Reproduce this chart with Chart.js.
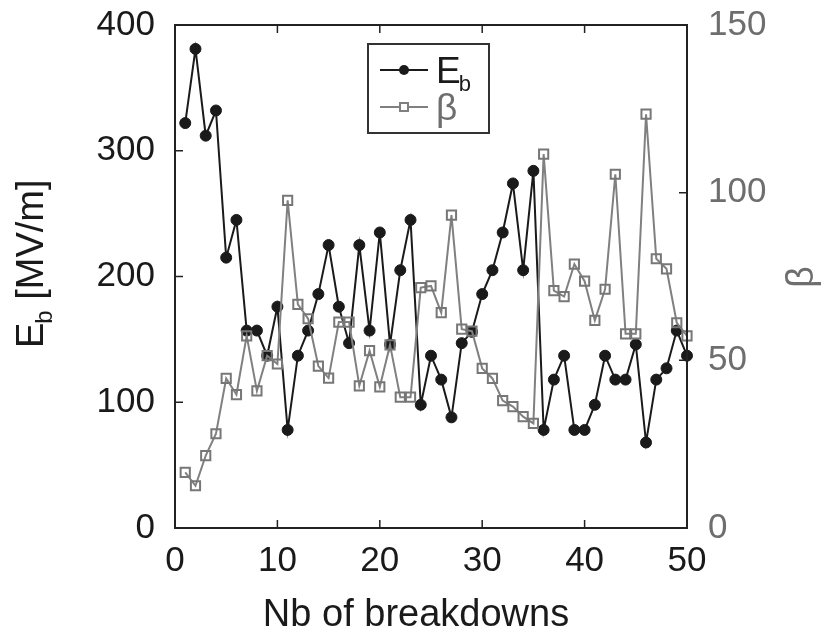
<!DOCTYPE html>
<html>
<head>
<meta charset="utf-8">
<script src="https://cdn.jsdelivr.net/npm/chart.js@4.4.1/dist/chart.umd.min.js"></script>
<style>
  body { margin: 0; background: #fff; }
  #chart { display: block; }
</style>
</head>
<body>
<canvas id="chart" width="821" height="632"></canvas>
<script>
// breakdown index
const breakdowns = [1, 2, 3, 4, 5, 6, 7, 8, 9, 10,
  11, 12, 13, 14, 15, 16, 17, 18, 19, 20,
  21, 22, 23, 24, 25, 26, 27, 28, 29, 30,
  31, 32, 33, 34, 35, 36, 37, 38, 39, 40,
  41, 42, 43, 44, 45, 46, 47, 48, 49, 50];

// breakdown field E_b [MV/m]
const ebValues = [322, 381, 312, 332, 215, 245, 157, 157, 137, 176,
  78, 137, 157, 186, 225, 176, 147, 225, 157, 235,
  146, 205, 245, 98, 137, 118, 88, 147, 156, 186,
  205, 235, 274, 205, 284, 78, 118, 137, 78, 78,
  98, 137, 118, 118, 146, 68, 118, 127, 157, 137];

// field enhancement factor beta
const betaValues = [16.6, 12.6, 21.6, 28.1, 44.6, 39.8, 57.3, 40.9, 51.4, 48.9,
  97.7, 66.7, 62.4, 48.3, 44.7, 61.4, 61.4, 42.4, 52.9, 42.1,
  54.6, 39, 39, 71.7, 72.2, 64.2, 93.3, 59.3, 58.7, 47.6,
  44.6, 38, 36.2, 33.2, 31.2, 111.5, 70.8, 69, 78.7, 73.6,
  61.9, 71.2, 105.5, 57.9, 57.9, 123.4, 80.3, 77.3, 61.2, 57.3];

// tick values
const xTicks = [0, 10, 20, 30, 40, 50];
const ebTicks = [0, 100, 200, 300, 400];
const betaTicks = [0, 50, 100, 150];

const black = "#1a1a1a";
const gray = "#808080";
const grayText = "#6e6e6e";
const font = "'Liberation Sans', Arial, Helvetica, sans-serif";

// frame, inward ticks, axis titles and legend
const decorPlugin = {
  id: "decor",
  afterDraw(chart) {
    const ctx = chart.ctx;
    const a = chart.chartArea;
    const sx = chart.scales.x, sy = chart.scales.y, sy1 = chart.scales.y1;
    ctx.save();

    // frame
    ctx.strokeStyle = "#222";
    ctx.lineWidth = 2;
    ctx.strokeRect(a.left, a.top, a.right - a.left, a.bottom - a.top);

    // inward ticks
    ctx.lineWidth = 1.5;
    ctx.beginPath();
    xTicks.slice(1, -1).forEach(v => {
      const px = sx.getPixelForValue(v);
      ctx.moveTo(px, a.bottom); ctx.lineTo(px, a.bottom - 8);
      ctx.moveTo(px, a.top); ctx.lineTo(px, a.top + 8);
    });
    ebTicks.slice(1, -1).forEach(v => {
      const py = sy.getPixelForValue(v);
      ctx.moveTo(a.left, py); ctx.lineTo(a.left + 8, py);
    });
    betaTicks.slice(1, -1).forEach(v => {
      const py = sy1.getPixelForValue(v);
      ctx.moveTo(a.right, py); ctx.lineTo(a.right - 8, py);
    });
    ctx.stroke();

    // x title
    ctx.fillStyle = black;
    ctx.textBaseline = "alphabetic";
    ctx.textAlign = "center";
    ctx.font = "38px " + font;
    ctx.fillText("Nb of breakdowns", 416, 626);

    // left title E_b [MV/m]
    ctx.save();
    ctx.translate(43, 348);
    ctx.rotate(-Math.PI / 2);
    ctx.textAlign = "left";
    ctx.font = "38px " + font;
    ctx.fillText("E", 0, 0);
    let w = ctx.measureText("E").width;
    ctx.font = "24px " + font;
    ctx.fillText("b", w - 1, 9);
    w += ctx.measureText("b").width - 1;
    ctx.font = "38px " + font;
    ctx.fillText(" [MV/m]", w, 0);
    ctx.restore();

    // right title beta
    ctx.save();
    ctx.translate(813, 277);
    ctx.rotate(-Math.PI / 2);
    ctx.fillStyle = grayText;
    ctx.textAlign = "center";
    ctx.font = "38px " + font;
    ctx.fillText("\u03b2", 0, 0);
    ctx.restore();

    // legend
    ctx.strokeStyle = "#333";
    ctx.lineWidth = 2;
    ctx.strokeRect(368, 44, 121, 89);

    ctx.strokeStyle = black;
    ctx.lineWidth = 2;
    ctx.beginPath();
    ctx.moveTo(380, 70); ctx.lineTo(428, 70);
    ctx.stroke();
    ctx.fillStyle = black;
    ctx.beginPath();
    ctx.arc(404, 70, 5, 0, Math.PI * 2);
    ctx.fill();

    ctx.strokeStyle = gray;
    ctx.beginPath();
    ctx.moveTo(380, 107); ctx.lineTo(428, 107);
    ctx.stroke();
    ctx.fillStyle = "#fff";
    ctx.fillRect(400, 103, 8, 8);
    ctx.strokeRect(400, 103, 8, 8);

    ctx.textAlign = "left";
    ctx.fillStyle = black;
    ctx.font = "37px " + font;
    ctx.fillText("E", 436, 83);
    const ew = ctx.measureText("E").width;
    ctx.font = "22px " + font;
    ctx.fillText("b", 436 + ew - 2, 91);
    ctx.fillStyle = grayText;
    ctx.font = "37px " + font;
    ctx.fillText("\u03b2", 436, 120);

    ctx.restore();
  }
};

const ctx = document.getElementById("chart").getContext("2d");

const chart = new Chart(ctx, {
  type: "line",
  data: {
    datasets: [
      {
        label: "\u03b2",
        data: breakdowns.map((x, i) => ({ x: x, y: betaValues[i] })),
        yAxisID: "y1",
        borderColor: gray,
        borderWidth: 2,
        pointStyle: "rect",
        pointRadius: 6.5,
        pointBorderWidth: 2,
        pointBorderColor: "#777",
        pointBackgroundColor: "rgba(255,255,255,0)",
        tension: 0,
        clip: false,
        order: 0,
      },
      {
        label: "Eb",
        data: breakdowns.map((x, i) => ({ x: x, y: ebValues[i] })),
        yAxisID: "y",
        borderColor: black,
        borderWidth: 2,
        pointStyle: "circle",
        pointRadius: 5.5,
        pointBorderWidth: 1,
        pointBorderColor: black,
        pointBackgroundColor: black,
        tension: 0,
        clip: false,
        order: 1,
      },
    ],
  },
  options: {
    responsive: false,
    animation: false,
    layout: { padding: { top: 25, left: 0, right: 0, bottom: 0 } },
    plugins: {
      legend: { display: false },
      tooltip: { enabled: false },
    },
    scales: {
      x: {
        type: "linear",
        min: 0,
        max: 50,
        afterFit(scale) { scale.height = 104; scale.paddingLeft = 0; scale.paddingRight = 0; },
        afterBuildTicks(scale) { scale.ticks = xTicks.map(v => ({ value: v })); },
        grid: { display: false, drawTicks: false },
        border: { display: false },
        ticks: { color: black, padding: 12, font: { size: 35, family: font } },
      },
      y: {
        position: "left",
        min: 0,
        max: 400,
        afterFit(scale) { scale.width = 175; scale.paddingTop = 0; scale.paddingBottom = 0; },
        afterBuildTicks(scale) { scale.ticks = ebTicks.map(v => ({ value: v })); },
        grid: { display: false, drawTicks: false },
        border: { display: false },
        ticks: { color: black, padding: 20, font: { size: 35, family: font } },
      },
      y1: {
        position: "right",
        min: 0,
        max: 150,
        afterFit(scale) { scale.width = 134; scale.paddingTop = 0; scale.paddingBottom = 0; },
        afterBuildTicks(scale) { scale.ticks = betaTicks.map(v => ({ value: v })); },
        grid: { display: false, drawTicks: false },
        border: { display: false },
        ticks: { color: grayText, padding: 21, font: { size: 35, family: font } },
      },
    },
  },
  plugins: [decorPlugin],
});
</script>
</body>
</html>
